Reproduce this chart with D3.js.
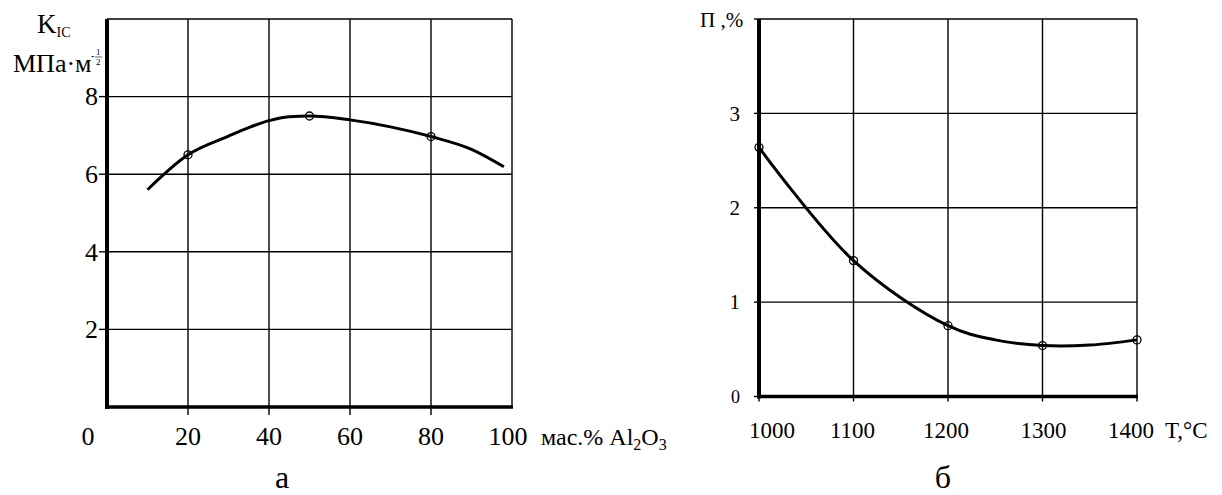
<!DOCTYPE html>
<html><head><meta charset="utf-8">
<script src="https://cdn.jsdelivr.net/npm/d3@7"></script>
<style>
body{margin:0;background:#fff}
svg{display:block}
svg text{font-family:'Liberation Serif','Times New Roman',Times,'DejaVu Serif',serif;fill:#000}
</style>
</head><body>
<svg id="chart" width="1222" height="495" font-family="Liberation Serif, Times New Roman, DejaVu Serif, serif"></svg>
<script>
// Panel а: fracture toughness vs Al2O3 content
const alCurveX = [10, 20, 30, 35, 40, 45, 50, 60, 70, 80, 90, 98];
const alCurveK = [5.6, 6.5, 6.98, 7.2, 7.38, 7.48, 7.5, 7.4, 7.22, 6.97, 6.64, 6.19];
const alPointX = [20, 50, 80];
const alPointK = [6.5, 7.5, 6.97];
const alXTicks = [0, 20, 40, 60, 80, 100];
const alYTicks = [2, 4, 6, 8];

// Panel б: porosity vs sintering temperature
const tCurveX = [1000, 1100, 1200, 1250, 1300, 1350, 1400];
const tCurveP = [2.64, 1.44, 0.75, 0.6, 0.54, 0.545, 0.6];
const tPointX = [1000, 1100, 1200, 1300, 1400];
const tPointP = [2.64, 1.44, 0.75, 0.54, 0.6];
const tXTicks = [1000, 1100, 1200, 1300, 1400];
const tYTicks = [0, 1, 2, 3];

const svg = d3.select("#chart");

function panel(o) {
  const g = svg.append("g");
  const x = d3.scaleLinear().domain(o.xDomain).range(o.xRange);
  const y = d3.scaleLinear().domain(o.yDomain).range(o.yRange);
  const [x0, x1] = o.xRange, [y0, y1] = o.yRange;

  // grid
  g.append("g").selectAll("line").data(o.xGrid).join("line")
    .attr("x1", d => x(d)).attr("x2", d => x(d))
    .attr("y1", y1).attr("y2", y0)
    .attr("stroke", "#000").attr("stroke-width", 1.4);
  g.append("g").selectAll("line").data(o.yGrid).join("line")
    .attr("x1", x0).attr("x2", x1)
    .attr("y1", d => y(d)).attr("y2", d => y(d))
    .attr("stroke", "#000").attr("stroke-width", 1.4);

  // ticks outside the frame
  g.append("g").selectAll("line").data(o.xTickMarks).join("line")
    .attr("x1", d => x(d)).attr("x2", d => x(d))
    .attr("y1", y0).attr("y2", y0 + o.tick)
    .attr("stroke", "#000").attr("stroke-width", 1.4);
  g.append("g").selectAll("line").data(o.yTickMarks).join("line")
    .attr("x1", x0 - o.tick).attr("x2", x0)
    .attr("y1", d => y(d)).attr("y2", d => y(d))
    .attr("stroke", "#000").attr("stroke-width", 1.4);

  // heavy axes
  g.append("line").attr("x1", x0).attr("x2", x0).attr("y1", y1).attr("y2", y0 + 2)
    .attr("stroke", "#000").attr("stroke-width", 4);
  g.append("line").attr("x1", x0).attr("x2", x1 + 1).attr("y1", y0).attr("y2", y0)
    .attr("stroke", "#000").attr("stroke-width", 3.5);

  // curve
  const line = d3.line().x(d => x(d[0])).y(d => y(d[1])).curve(o.curve);
  g.append("path").datum(d3.zip(o.cx, o.cy)).attr("d", line)
    .attr("fill", "none").attr("stroke", "#000").attr("stroke-width", 3);

  g.append("g").selectAll("circle").data(d3.zip(o.px, o.py)).join("circle")
    .attr("cx", d => x(d[0])).attr("cy", d => y(d[1])).attr("r", 4)
    .attr("fill", "none").attr("stroke", "#000").attr("stroke-width", 1.3);

  // tick labels
  g.append("g").selectAll("text").data(o.xTicks).join("text")
    .attr("x", d => x(d) + (o.xLabelShift[d] || 0)).attr("y", o.xLabelY)
    .attr("text-anchor", "middle").attr("font-size", o.xFont).text(d => d);
  g.append("g").selectAll("text").data(o.yTicks).join("text")
    .attr("x", o.yLabelX).attr("y", d => y(d)).attr("dy", "0.34em")
    .attr("text-anchor", "end").attr("font-size", d => (o.yFontFor ? o.yFontFor(d) : o.yFont)).text(d => d);
  return {x, y};
}

panel({
  xDomain: [0, 100], xRange: [107, 512],
  yDomain: [0, 10], yRange: [407, 19],
  xGrid: [20, 40, 60, 80, 100], yGrid: [2, 4, 6, 8, 10],
  xTickMarks: [20, 40, 60, 80], yTickMarks: [2, 4, 6, 8], tick: 8,
  curve: d3.curveMonotoneX,
  cx: alCurveX, cy: alCurveK, px: alPointX, py: alPointK,
  xTicks: alXTicks, yTicks: alYTicks,
  xLabelShift: {0: -19, 100: -4}, xLabelY: 445, xFont: 26,
  yLabelX: 98, yFont: 26
});

panel({
  xDomain: [1000, 1400], xRange: [759, 1137],
  yDomain: [0, 4], yRange: [396.5, 19],
  xGrid: [1100, 1200, 1300, 1400], yGrid: [1, 2, 3, 4],
  xTickMarks: tXTicks, yTickMarks: [0, 1, 2, 3, 4], tick: 5,
  curve: d3.curveCatmullRom.alpha(0.5),
  cx: tCurveX, cy: tCurveP, px: tPointX, py: tPointP,
  xTicks: tXTicks, yTicks: tYTicks,
  xLabelShift: {1000: 13, 1100: -1, 1200: -2, 1300: 1, 1400: -6}, xLabelY: 438, xFont: 23,
  yLabelX: 740, yFont: 21, yFontFor: d => d === 0 ? 18 : 21
});

// axis titles, panel а
const kt = svg.append("text").attr("x", 37).attr("y", 33).attr("font-size", 27);
kt.append("tspan").text("K");
kt.append("tspan").attr("font-size", 14).attr("dy", 4).text("IC");
svg.append("text").attr("x", 13).attr("y", 72).attr("font-size", 26).text("МПа·м");
svg.append("text").attr("x", 91).attr("y", 59).attr("font-size", 10).text("-");
svg.append("text").attr("x", 96).attr("y", 55).attr("font-size", 9).text("1");
svg.append("line").attr("x1", 95).attr("x2", 102).attr("y1", 57).attr("y2", 57)
  .attr("stroke", "#000").attr("stroke-width", 0.6);
svg.append("text").attr("x", 96).attr("y", 65).attr("font-size", 9).text("2");

const at = svg.append("text").attr("x", 541).attr("y", 445).attr("font-size", 24);
at.append("tspan").text("мас.% Al");
at.append("tspan").attr("font-size", 16).attr("dy", 5).text("2");
at.append("tspan").attr("dy", -5).text("O");
at.append("tspan").attr("font-size", 16).attr("dy", 5).text("3");

// axis titles, panel б
svg.append("text").attr("x", 700).attr("y", 27).attr("font-size", 21).text("П ,%");
svg.append("text").attr("x", 1165).attr("y", 438).attr("font-size", 23).text("T,°C");

// panel letters
svg.append("text").attr("x", 282).attr("y", 488).attr("text-anchor", "middle").attr("font-size", 32).text("а");
svg.append("text").attr("x", 943).attr("y", 488).attr("text-anchor", "middle").attr("font-size", 32).text("б");
</script>
</body></html>
